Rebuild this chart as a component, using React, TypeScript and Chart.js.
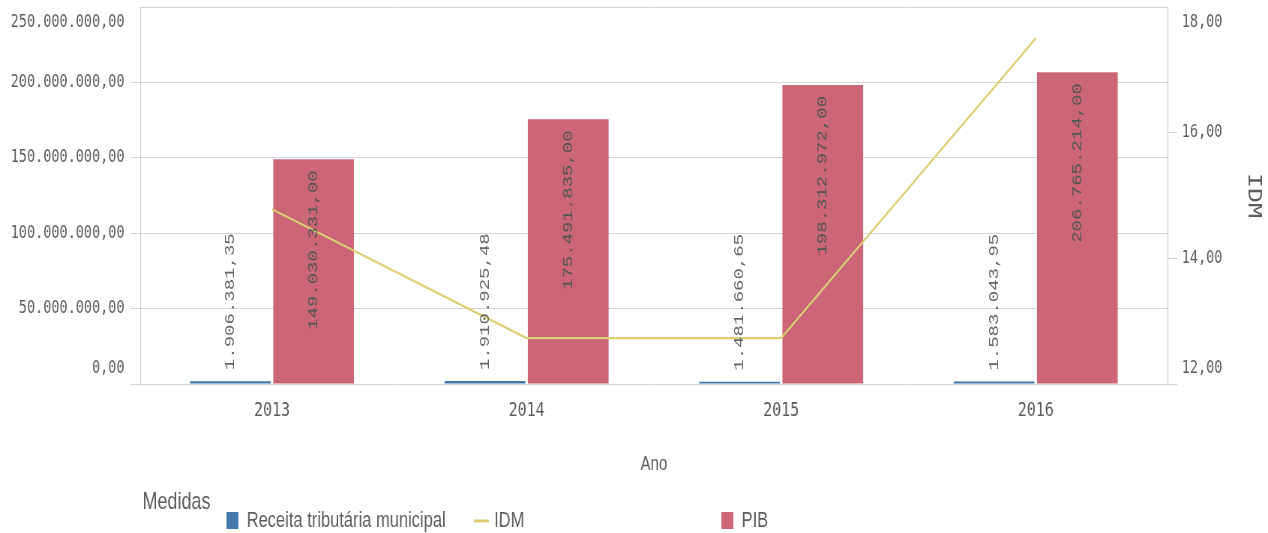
import React, { useEffect, useRef } from "react";
import { Chart, registerables } from "chart.js";

Chart.register(...registerables);

// ---- data ----
const years = ["2013", "2014", "2015", "2016"];
const receitaValues = [1906381.35, 1910925.48, 1481660.65, 1583043.95];
const pibValues = [149030331.0, 175491835.0, 198312972.0, 206765214.0];
const idmValues = [14.78, 12.73, 12.73, 17.5];
const seriesLabels = ["Receita tributária municipal", "IDM", "PIB"];
const legendTitle = "Medidas";
const xAxisTitle = "Ano";
const rightAxisTitle = "IDM";

// ---- styling constants ----
const SQUEEZE = 0.75;
const VIEW_W = 1268;
const VIEW_H = 533;
const CANVAS_W = Math.round(VIEW_W / SQUEEZE);
const AREA_LEFT = 187;
const AREA_RIGHT = 1557;
const CATEGORY_INSET = 6;
const TEXT = "#5c5c5c";
const GRID = "#d4d4d4";
const BORDER = "#c4c4c4";
const MONO = "'DejaVu Sans Mono', monospace";
const SANS = "'Liberation Sans', Arial, sans-serif";

function fmtBR(v: number): string {
  const [i, d] = Math.abs(v).toFixed(2).split(".");
  return (v < 0 ? "-" : "") + i.replace(/\B(?=(\d{3})+(?!\d))/g, ".") + "," + d;
}

function edgeLabel(value: any, index: number, ticks: any[]) {
  const s = fmtBR(Number(value));
  if (index === ticks.length - 1) return ["", s];
  if (index === 0) return [s, ""];
  return s;
}

function edgeFont(ctx: any) {
  const n = ctx.scale && ctx.scale.ticks ? ctx.scale.ticks.length : 0;
  const edge = ctx.index === 0 || ctx.index === n - 1;
  return { family: MONO, size: 18, lineHeight: edge ? "31px" : 1.2 };
}

const insetPlugin = {
  id: "categoryInset",
  afterLayout(chart: any) {
    const x = chart.scales.x;
    if (!x) return;
    x.left += CATEGORY_INSET;
    x.right -= CATEGORY_INSET;
    x.width = x.right - x.left;
    x.configure();
  },
};

const barLabelPlugin = {
  id: "barValueLabels",
  afterDatasetsDraw(chart: any) {
    const ctx = chart.ctx as CanvasRenderingContext2D;
    chart.data.datasets.forEach((ds: any, di: number) => {
      if (ds.type !== "bar") return;
      const meta = chart.getDatasetMeta(di);
      meta.data.forEach((el: any, i: number) => {
        const v = ds.data[i];
        const text = fmtBR(v);
        const { x, y, base } = el.getProps(["x", "y", "base"], true);
        ctx.save();
        ctx.font = "19px 'Liberation Mono', monospace";
        ctx.textBaseline = "middle";
        const w = ctx.measureText(text).width;
        const h = base - y;
        ctx.translate(x, 0);
        if (h > w + 30) {
          ctx.fillStyle = "#555555";
          ctx.translate(0, y + 11);
          ctx.rotate(-Math.PI / 2);
          ctx.textAlign = "right";
        } else {
          ctx.fillStyle = "#666666";
          ctx.translate(0, y - 11);
          ctx.rotate(-Math.PI / 2);
          ctx.textAlign = "left";
        }
        ctx.fillText(text, 0, 0);
        ctx.restore();
      });
    });
  },
};

const legendPlugin = {
  id: "qlikLegend",
  afterDraw(chart: any) {
    const ctx = chart.ctx as CanvasRenderingContext2D;
    ctx.save();
    ctx.textBaseline = "middle";
    ctx.textAlign = "left";
    ctx.fillStyle = TEXT;
    ctx.font = `24px ${SANS}`;
    ctx.fillText(legendTitle, 190, 502);
    chart.data.datasets.forEach((ds: any, i: number) => {
      const x0 = 302 + i * 330;
      const yc = 521;
      if (ds.type === "line") {
        ctx.strokeStyle = ds.borderColor;
        ctx.lineWidth = 3;
        ctx.beginPath();
        ctx.moveTo(x0, yc);
        ctx.lineTo(x0 + 20, yc);
        ctx.stroke();
      } else {
        ctx.fillStyle = ds.backgroundColor;
        ctx.fillRect(x0, yc - 9, 16, 17);
      }
      ctx.fillStyle = TEXT;
      ctx.font = `22px ${SANS}`;
      ctx.fillText(ds.label, x0 + 27, yc);
    });
    ctx.restore();
  },
};

export default function App() {
  const canvasRef = useRef<HTMLCanvasElement | null>(null);

  useEffect(() => {
    if (!canvasRef.current) return;
    const chart = new Chart(canvasRef.current, {
      type: "bar",
      data: {
        labels: years,
        datasets: [
          {
            type: "bar",
            label: seriesLabels[0],
            data: receitaValues,
            backgroundColor: "#4477aa",
            yAxisID: "y",
            order: 1,
          },
          {
            type: "line",
            label: seriesLabels[1],
            data: idmValues,
            borderColor: "#ddcc77",
            backgroundColor: "#ddcc77",
            borderWidth: 2.2,
            pointRadius: 0,
            tension: 0,
            yAxisID: "y1",
            order: 0,
          },
          {
            type: "bar",
            label: seriesLabels[2],
            data: pibValues,
            backgroundColor: "#cc6677",
            yAxisID: "y",
            order: 1,
          },
        ] as any,
      },
      options: {
        animation: false,
        responsive: true,
        maintainAspectRatio: false,
        devicePixelRatio: 1,
        datasets: {
          bar: { categoryPercentage: 0.654, barPercentage: 0.97 },
        } as any,
        layout: { padding: { top: 7, left: 0, right: 0, bottom: 49 } },
        plugins: {
          legend: { display: false },
          tooltip: { enabled: false },
        },
        scales: {
          x: {
            type: "category",
            offset: true,
            grid: { display: false, drawTicks: false },
            border: { display: false },
            ticks: {
              color: TEXT,
              font: { family: MONO, size: 20 },
              padding: 15,
              maxRotation: 0,
            },
            title: {
              display: true,
              text: xAxisTitle,
              color: TEXT,
              font: { family: SANS, size: 20 },
              padding: { top: 8, bottom: 8 },
            },
            afterFit(scale: any) {
              scale.height = 100;
              scale.paddingLeft = 0;
              scale.paddingRight = 0;
            },
          },
          y: {
            type: "linear",
            position: "left",
            min: 0,
            max: 250000000,
            ticks: {
              stepSize: 50000000,
              color: TEXT,
              padding: 8,
              callback: edgeLabel as any,
              font: edgeFont as any,
            },
            grid: {
              color: GRID,
              lineWidth: 1,
              drawTicks: true,
              tickLength: 13,
              tickColor: (c: any) =>
                c.tick && c.tick.value === 250000000 ? "rgba(0,0,0,0)" : GRID,
            },
            border: { display: true, color: BORDER },
            afterFit(scale: any) {
              scale.width = AREA_LEFT;
              scale.paddingTop = 0;
              scale.paddingBottom = 0;
            },
          },
          y1: {
            type: "linear",
            position: "right",
            min: 12,
            max: 18,
            ticks: {
              stepSize: 2,
              color: TEXT,
              padding: 6,
              callback: edgeLabel as any,
              font: edgeFont as any,
            },
            grid: {
              drawOnChartArea: false,
              drawTicks: true,
              tickLength: 13,
              color: GRID,
              tickColor: (c: any) =>
                c.tick && c.tick.value === 18 ? "rgba(0,0,0,0)" : GRID,
            },
            border: { display: true, color: BORDER },
            title: {
              display: true,
              text: rightAxisTitle,
              color: TEXT,
              font: { family: MONO, size: 25 },
              padding: { top: 5, bottom: 5 },
            },
            afterFit(scale: any) {
              scale.width = CANVAS_W - AREA_RIGHT;
              scale.paddingTop = 0;
              scale.paddingBottom = 0;
            },
          },
        },
      } as any,
      plugins: [insetPlugin, barLabelPlugin, legendPlugin],
    });
    return () => chart.destroy();
  }, []);

  return (
    <div
      style={{
        position: "absolute",
        left: 0,
        top: 0,
        width: VIEW_W,
        height: VIEW_H,
        overflow: "hidden",
        background: "#ffffff",
      }}
    >
      <div
        style={{
          position: "relative",
          width: CANVAS_W,
          height: VIEW_H,
          transform: `scaleX(${VIEW_W / CANVAS_W})`,
          transformOrigin: "0 0",
        }}
      >
        <canvas ref={canvasRef} />
      </div>
    </div>
  );
}
